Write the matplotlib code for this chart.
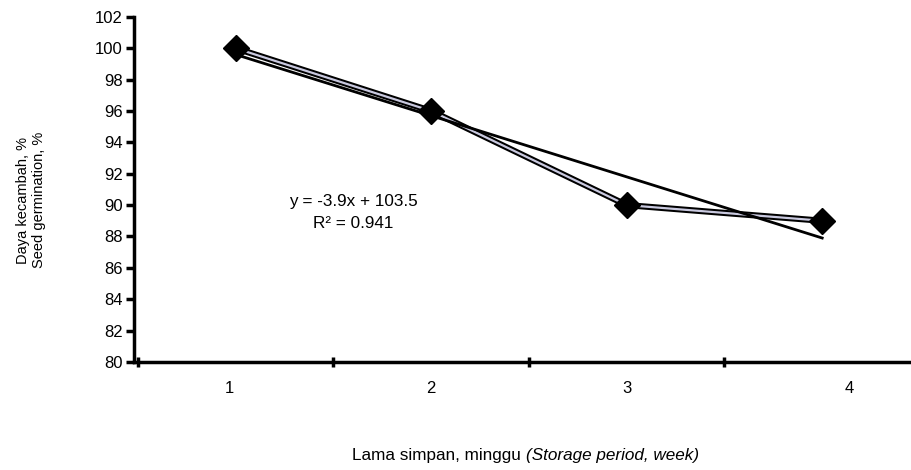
import matplotlib.pyplot as plt
import numpy as np

plt.rcParams['font.family'] = ['Liberation Sans', 'DejaVu Sans']

weeks = [1, 2, 3, 4]
germination = [100, 96, 90, 89]
week_labels = ['1', '2', '3', '4']
y_ticks = list(range(80, 103, 2))
eq_text = "y = -3.9x + 103.5"
r2_text = "R² = 0.941"

# linear trend
slope, intercept = np.polyfit(weeks, germination, 1)
fit = np.polyval([slope, intercept], weeks)

fig = plt.figure(figsize=(9.12, 4.70), dpi=100)
ax = fig.add_axes([0.147, 0.23, 0.851, 0.734])

ax.plot(weeks, germination, color='black', lw=4.5, solid_capstyle='butt', zorder=2)
ax.plot(weeks, germination, color='#c9c9df', lw=1.6, zorder=3)
ax.plot(weeks, germination, ls='none', marker='D', ms=13, color='black', zorder=5)
ax.plot([weeks[0], weeks[-1]], [fit[0], fit[-1]], color='black', lw=2, zorder=4)

ax.text(1.60, 90.2, eq_text, ha='center', va='center', fontsize=12.3)
ax.text(1.60, 88.85, r2_text, ha='center', va='center', fontsize=12.3)

label_pos = [0.97, 2.0, 3.0, 4.14]
ax.set_xlim(0.48, 4.45)
ax.set_ylim(80, 102)
ax.set_yticks(y_ticks)
ax.set_xticks([0.5, 1.5, 2.5, 3.5])
ax.set_xticklabels([])
ax.set_xticks(label_pos, minor=True)
ax.set_xticklabels(week_labels, minor=True)
ax.tick_params(axis='x', which='minor', length=0, pad=14, labelsize=12)
ax.tick_params(axis='x', which='major', length=7, width=2.5, direction='inout')
ax.tick_params(axis='y', length=6, width=2.5, labelsize=12, pad=2)

for side in ['top', 'right']:
    ax.spines[side].set_visible(False)
for side in ['left', 'bottom']:
    ax.spines[side].set_linewidth(2.5)

fig.text(0.034, 0.574, "Daya kecambah, %\nSeed germination, %", rotation=90,
         ha='center', va='center', fontsize=10.5, linespacing=1.1)
t1 = fig.text(0.386, 0.014, "Lama simpan, minggu ", ha='left', va='bottom', fontsize=12.3)
ax.annotate("(Storage period, week)", xy=(1, 0), xycoords=t1, ha='left', va='bottom',
            fontsize=12.3, style='italic', annotation_clip=False)

fig.savefig('out.png', dpi=100, facecolor='white')
